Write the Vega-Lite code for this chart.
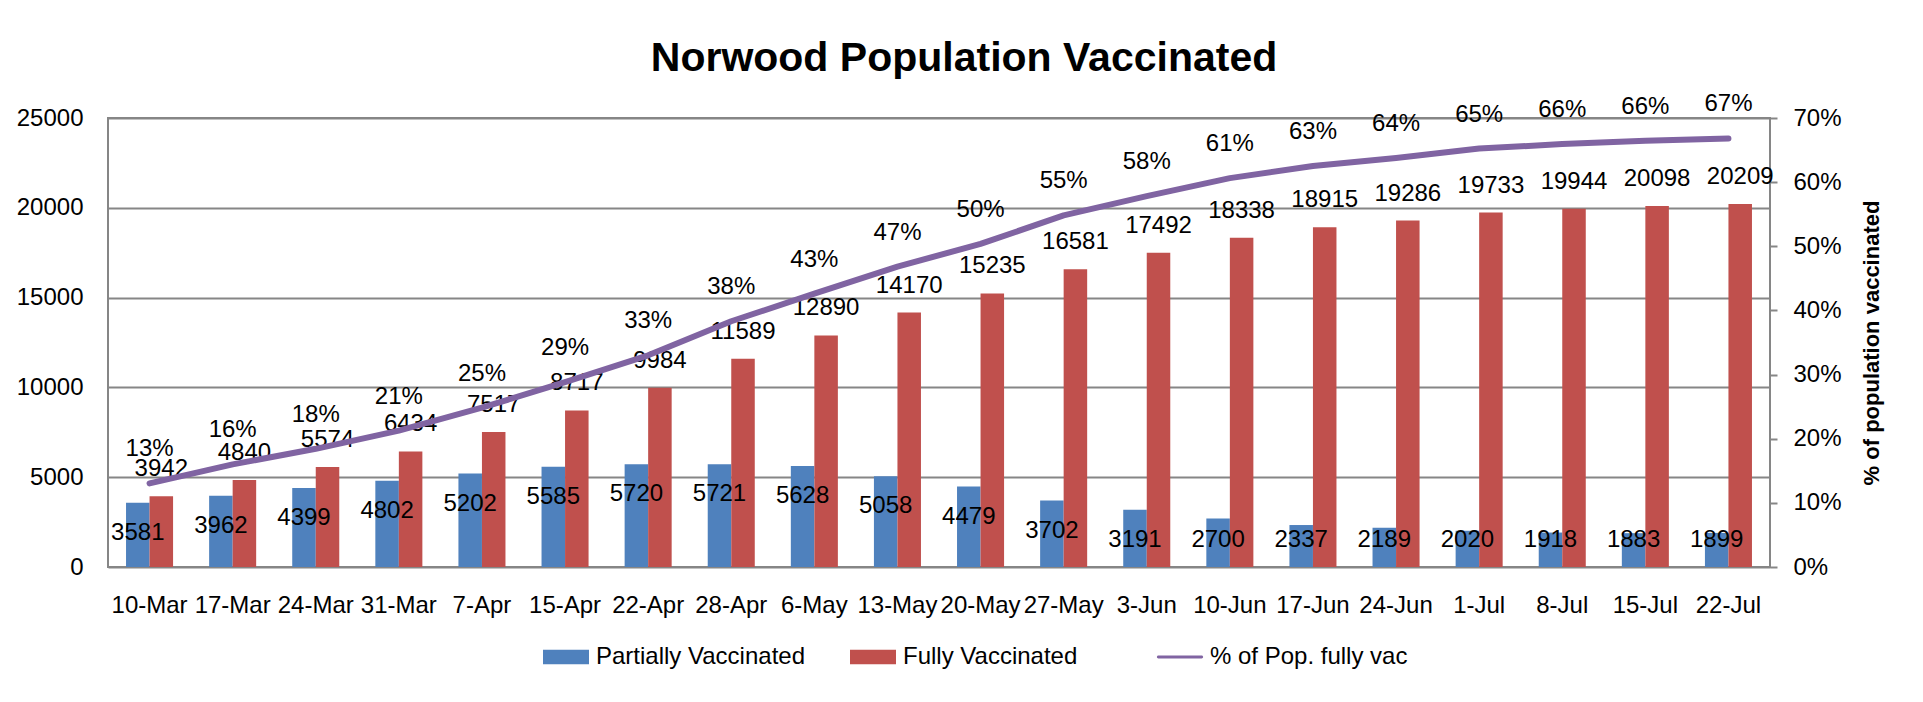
{
  "$schema": "https://vega.github.io/schema/vega-lite/v6.json",
  "width": 1662,
  "height": 449,
  "autosize": {"type": "none"},
  "padding": {"left": 108, "top": 118, "right": 153, "bottom": 135},
  "background": "white",
  "title": {
    "text": "Norwood Population Vaccinated",
    "font": "Liberation Sans",
    "fontSize": 41,
    "fontWeight": "bold",
    "color": "black",
    "anchor": "middle",
    "frame": "group",
    "dx": 25,
    "offset": 12
  },
  "config": {
    "font": "Liberation Sans",
    "view": {"stroke": "#868686", "strokeWidth": 2},
    "axis": {
      "labelFont": "Liberation Sans",
      "labelFontSize": 24,
      "labelColor": "black",
      "domain": false,
      "gridColor": "#868686",
      "gridWidth": 2,
      "tickColor": "#868686",
      "tickWidth": 2,
      "titleFont": "Liberation Sans",
      "titleColor": "black"
    },
    "text": {"font": "Liberation Sans", "fontSize": 24, "fill": "black"}
  },
  "datasets": {
    "bars": [
      {"date": "10-Mar", "series": "Partially Vaccinated", "value": 3581},
      {"date": "17-Mar", "series": "Partially Vaccinated", "value": 3962},
      {"date": "24-Mar", "series": "Partially Vaccinated", "value": 4399},
      {"date": "31-Mar", "series": "Partially Vaccinated", "value": 4802},
      {"date": "7-Apr", "series": "Partially Vaccinated", "value": 5202},
      {"date": "15-Apr", "series": "Partially Vaccinated", "value": 5585},
      {"date": "22-Apr", "series": "Partially Vaccinated", "value": 5720},
      {"date": "28-Apr", "series": "Partially Vaccinated", "value": 5721},
      {"date": "6-May", "series": "Partially Vaccinated", "value": 5628},
      {"date": "13-May", "series": "Partially Vaccinated", "value": 5058},
      {"date": "20-May", "series": "Partially Vaccinated", "value": 4479},
      {"date": "27-May", "series": "Partially Vaccinated", "value": 3702},
      {"date": "3-Jun", "series": "Partially Vaccinated", "value": 3191},
      {"date": "10-Jun", "series": "Partially Vaccinated", "value": 2700},
      {"date": "17-Jun", "series": "Partially Vaccinated", "value": 2337},
      {"date": "24-Jun", "series": "Partially Vaccinated", "value": 2189},
      {"date": "1-Jul", "series": "Partially Vaccinated", "value": 2020},
      {"date": "8-Jul", "series": "Partially Vaccinated", "value": 1918},
      {"date": "15-Jul", "series": "Partially Vaccinated", "value": 1883},
      {"date": "22-Jul", "series": "Partially Vaccinated", "value": 1899},
      {"date": "10-Mar", "series": "Fully Vaccinated", "value": 3942},
      {"date": "17-Mar", "series": "Fully Vaccinated", "value": 4840},
      {"date": "24-Mar", "series": "Fully Vaccinated", "value": 5574},
      {"date": "31-Mar", "series": "Fully Vaccinated", "value": 6434},
      {"date": "7-Apr", "series": "Fully Vaccinated", "value": 7517},
      {"date": "15-Apr", "series": "Fully Vaccinated", "value": 8717},
      {"date": "22-Apr", "series": "Fully Vaccinated", "value": 9984},
      {"date": "28-Apr", "series": "Fully Vaccinated", "value": 11589},
      {"date": "6-May", "series": "Fully Vaccinated", "value": 12890},
      {"date": "13-May", "series": "Fully Vaccinated", "value": 14170},
      {"date": "20-May", "series": "Fully Vaccinated", "value": 15235},
      {"date": "27-May", "series": "Fully Vaccinated", "value": 16581},
      {"date": "3-Jun", "series": "Fully Vaccinated", "value": 17492},
      {"date": "10-Jun", "series": "Fully Vaccinated", "value": 18338},
      {"date": "17-Jun", "series": "Fully Vaccinated", "value": 18915},
      {"date": "24-Jun", "series": "Fully Vaccinated", "value": 19286},
      {"date": "1-Jul", "series": "Fully Vaccinated", "value": 19733},
      {"date": "8-Jul", "series": "Fully Vaccinated", "value": 19944},
      {"date": "15-Jul", "series": "Fully Vaccinated", "value": 20098},
      {"date": "22-Jul", "series": "Fully Vaccinated", "value": 20209}
    ],
    "pct": [
      {"date": "10-Mar", "pct": 0.13031},
      {"date": "17-Mar", "pct": 0.16000},
      {"date": "24-Mar", "pct": 0.18426},
      {"date": "31-Mar", "pct": 0.21269},
      {"date": "7-Apr", "pct": 0.24850},
      {"date": "15-Apr", "pct": 0.28817},
      {"date": "22-Apr", "pct": 0.33005},
      {"date": "28-Apr", "pct": 0.38311},
      {"date": "6-May", "pct": 0.42612},
      {"date": "13-May", "pct": 0.46843},
      {"date": "20-May", "pct": 0.50364},
      {"date": "27-May", "pct": 0.54813},
      {"date": "3-Jun", "pct": 0.57825},
      {"date": "10-Jun", "pct": 0.60622},
      {"date": "17-Jun", "pct": 0.62529},
      {"date": "24-Jun", "pct": 0.63755},
      {"date": "1-Jul", "pct": 0.65233},
      {"date": "8-Jul", "pct": 0.65931},
      {"date": "15-Jul", "pct": 0.66440},
      {"date": "22-Jul", "pct": 0.66807}
    ]
  },
  "layer": [
    {
      "data": {"name": "bars"},
      "encoding": {
        "x": {
          "field": "date",
          "type": "nominal",
          "sort": null,
          "scale": {
            "domain": ["10-Mar", "17-Mar", "24-Mar", "31-Mar", "7-Apr", "15-Apr", "22-Apr", "28-Apr", "6-May", "13-May", "20-May", "27-May", "3-Jun", "10-Jun", "17-Jun", "24-Jun", "1-Jul", "8-Jul", "15-Jul", "22-Jul"],
            "paddingInner": 0.434,
            "paddingOuter": 0.217
          },
          "axis": {
            "title": null,
            "labelAngle": 0,
            "ticks": false,
            "tickSize": 0,
            "labelPadding": 26,
            "labelOverlap": false,
            "grid": false
          }
        },
        "y": {
          "field": "value",
          "type": "quantitative",
          "scale": {"domain": [0, 25000], "nice": false},
          "axis": {
            "title": null,
            "values": [0, 5000, 10000, 15000, 20000, 25000],
            "format": "d",
            "ticks": false,
            "tickSize": 0,
            "labelPadding": 25,
            "grid": true
          }
        }
      },
      "layer": [
        {
          "mark": {"type": "bar"},
          "encoding": {
            "xOffset": {
              "field": "series",
              "type": "nominal",
              "scale": {"domain": ["Partially Vaccinated", "Fully Vaccinated"], "paddingInner": 0, "paddingOuter": 0}
            },
            "color": {
              "field": "series",
              "type": "nominal",
              "scale": {
                "domain": ["Partially Vaccinated", "Fully Vaccinated", "% of Pop. fully vac"],
                "range": ["#4F81BD", "#C0504D", "#8064A2"]
              },
              "legend": {
                "orient": "none",
                "legendX": 435,
                "legendY": 516,
                "direction": "horizontal",
                "title": null,
                "labelFont": "Liberation Sans",
                "labelFontSize": 24,
                "labelColor": "black",
                "labelOffset": 7,
                "labelLimit": 400,
                "columnPadding": 44,
                "gridAlign": "all",
                "symbolSize": 2116,
                "padding": 0,
                "encode": {
                  "symbols": {
                    "update": {
                      "shape": {"signal": "datum.value === '% of Pop. fully vac' ? 'M-0.94,-0.065H0.94A0.065,0.065,0,0,1,0.94,0.065H-0.94A0.065,0.065,0,0,1,-0.94,-0.065Z' : 'M-1,-0.32H1V0.32H-1Z'"},
                      "fill": {"scale": "color", "field": "value"},
                      "stroke": {"value": "transparent"},
                      "strokeWidth": {"value": 0},
                      "opacity": {"value": 1}
                    }
                  }
                }
              }
            }
          }
        },
        {
          "transform": [{"filter": "datum.series === 'Fully Vaccinated'"}],
          "mark": {"type": "text", "dy": -27, "baseline": "middle", "fontSize": 24, "fill": "black"},
          "encoding": {
            "xOffset": {"field": "series", "type": "nominal"},
            "text": {"field": "value", "type": "quantitative", "format": "d"}
          }
        },
        {
          "transform": [{"filter": "datum.series === 'Partially Vaccinated' && datum.value >= 3000"}],
          "mark": {"type": "text", "dy": 30, "baseline": "middle", "fontSize": 24, "fill": "black"},
          "encoding": {
            "xOffset": {"field": "series", "type": "nominal"},
            "text": {"field": "value", "type": "quantitative", "format": "d"}
          }
        },
        {
          "transform": [{"filter": "datum.series === 'Partially Vaccinated' && datum.value < 3000"}],
          "mark": {"type": "text", "dy": -27, "baseline": "middle", "fontSize": 24, "fill": "black"},
          "encoding": {
            "xOffset": {"field": "series", "type": "nominal"},
            "y": {"datum": 0, "type": "quantitative"},
            "text": {"field": "value", "type": "quantitative", "format": "d"}
          }
        }
      ]
    },
    {
      "data": {"name": "pct"},
      "encoding": {
        "x": {"field": "date", "type": "nominal", "sort": null},
        "y": {
          "field": "pct",
          "type": "quantitative",
          "scale": {"domain": [0, 0.7], "nice": false},
          "axis": {
            "orient": "right",
            "values": [0, 0.1, 0.2, 0.3, 0.4, 0.5, 0.6, 0.7],
            "format": ".0%",
            "grid": false,
            "ticks": true,
            "tickSize": 7,
            "labelPadding": 16,
            "title": "% of population vaccinated",
            "titleFontSize": 22,
            "titleFontWeight": "bold",
            "titleAngle": -90,
            "titleBaseline": "top",
            "titlePadding": 20
          }
        }
      },
      "layer": [
        {
          "mark": {"type": "line", "strokeWidth": 6, "strokeCap": "round", "strokeJoin": "round"},
          "encoding": {"color": {"datum": "% of Pop. fully vac", "type": "nominal"}}
        },
        {
          "mark": {"type": "text", "dy": -34, "baseline": "middle", "fontSize": 24, "fill": "black"},
          "encoding": {"text": {"field": "pct", "type": "quantitative", "format": ".0%"}}
        }
      ]
    }
  ],
  "resolve": {"scale": {"y": "independent"}}
}
